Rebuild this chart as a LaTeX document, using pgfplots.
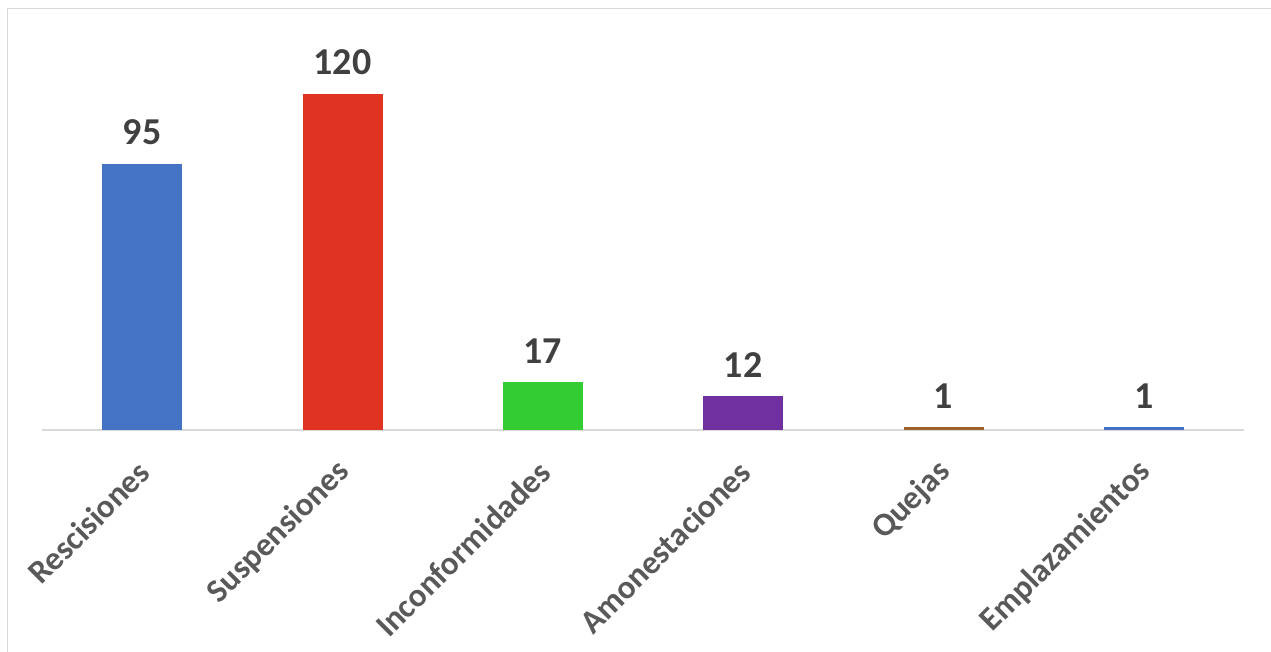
\documentclass[border=0pt]{standalone}
\usepackage{pgfplots}
\pgfplotsset{compat=1.18}
\usepackage{fontspec}
\setmainfont{Carlito}
\definecolor{cblue}{HTML}{4472C4}
\definecolor{cred}{HTML}{E03322}
\definecolor{cgreen}{HTML}{33CC33}
\definecolor{cpurple}{HTML}{7030A0}
\definecolor{cbrown}{HTML}{9E6230}
\definecolor{framegray}{HTML}{D9D9D9}
\definecolor{labelgray}{HTML}{595959}
\definecolor{valgray}{HTML}{404040}
\begin{document}
\begin{tikzpicture}
% 1 px of the reference = 0.5pt
\path[use as bounding box] (0,0) rectangle (635.5pt,326pt);
\draw[framegray, line width=0.9pt] (3.75pt,321.75pt) rectangle (660pt,-20pt);
\begin{axis}[
  at={(21pt,111pt)}, anchor=south west,
  scale only axis, width=601pt, height=168pt,
  xmin=-0.5, xmax=5.5, ymin=0, ymax=120,
  axis x line*=bottom, axis y line=none,
  x axis line style={draw=framegray, line width=0.8pt, -},
  ybar, bar width=40pt, bar shift=0pt,
  xtick={0,...,5},
  xticklabels={Rescisiones,Suspensiones,Inconformidades,Amonestaciones,Quejas,Emplazamientos},
  major tick length=0pt,
  xticklabel style={xshift=1pt, yshift=-18.5pt, rotate=45, anchor=east,
    inner sep=0pt, text=labelgray,
    font=\bfseries\fontsize{16.5}{18}\selectfont},
  /pgf/number format/assume math mode=true,
  nodes near coords,
  every node near coord/.append style={text=valgray,
    font=\bfseries\fontsize{19}{21}\selectfont, yshift=6pt},
  clip=false,
]
\addplot[fill=cblue, draw=none] coordinates {(0,95)};
\addplot[fill=cred, draw=none] coordinates {(1,120)};
\addplot[fill=cgreen, draw=none] coordinates {(2,17)};
\addplot[fill=cpurple, draw=none] coordinates {(3,12)};
\addplot[fill=cbrown, draw=none] coordinates {(4,1)};
\addplot[fill=cblue, draw=none] coordinates {(5,1)};
\end{axis}
\end{tikzpicture}
\end{document}
